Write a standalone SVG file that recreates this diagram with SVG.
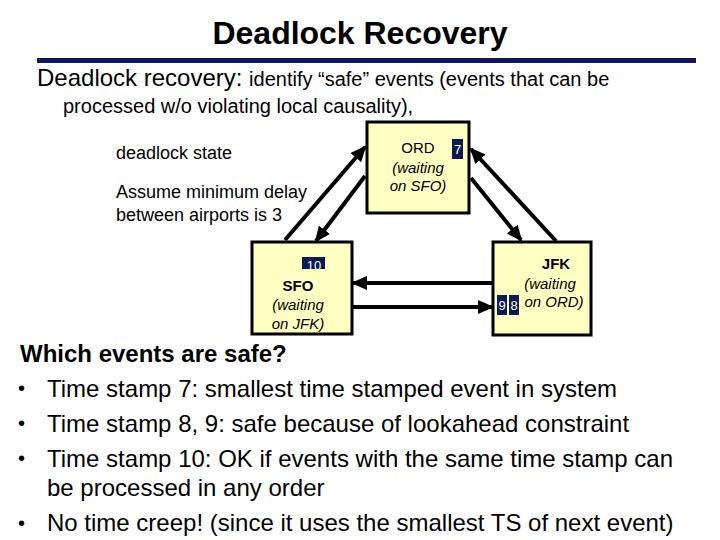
<svg xmlns="http://www.w3.org/2000/svg" width="720" height="540" viewBox="0 0 720 540">
<style>
text{font-family:"Liberation Sans",Arial,sans-serif;fill:#000}
.title{font-size:32px;font-weight:bold}
.sub{font-size:20px}
.lbl{font-size:18px}
.body{font-size:24px}
.bul{font-size:20px}
.box{fill:#ffffc4;stroke:#000;stroke-width:3}
.nm{font-size:15px;text-anchor:middle}
.it{font-size:15px;font-style:italic;text-anchor:middle}
.badge{fill:#0c1a52}
.bt{font-size:13px;fill:#fff;text-anchor:middle}
.conn{stroke:#000;stroke-width:4;fill:none;marker-end:url(#ah)}
</style>
<defs>
<marker id="ah" markerUnits="userSpaceOnUse" markerWidth="16" markerHeight="14" refX="14" refY="7" orient="auto">
<path d="M0,0 L16,7 L0,14 z" fill="#000"/>
</marker>
<clipPath id="c10"><rect x="302" y="257" width="23" height="12"/></clipPath>
</defs>
<rect width="720" height="540" fill="#fff"/>
<text class="title" x="360" y="44" text-anchor="middle" textLength="295">Deadlock Recovery</text>
<rect x="37" y="58" width="659" height="5" fill="#10165e"/>
<text x="37" y="86"><tspan style="font-size:24px">Deadlock recovery: </tspan><tspan class="sub">identify “safe” events (events that can be</tspan></text>
<text class="sub" x="63" y="113">processed w/o violating local causality),</text>
<text class="lbl" x="116" y="159">deadlock state</text>
<text class="lbl" x="116" y="198">Assume minimum delay</text>
<text class="lbl" x="116" y="221">between airports is 3</text>

<g id="connectors">
<line class="conn" x1="285" y1="240" x2="365" y2="147"/>
<line class="conn" x1="365" y1="176" x2="316" y2="241"/>
<line class="conn" x1="492" y1="283" x2="353" y2="283"/>
<line class="conn" x1="353" y1="307" x2="492" y2="307"/>
<line class="conn" x1="471" y1="178" x2="521" y2="240"/>
<line class="conn" x1="556" y1="241" x2="471" y2="149"/>
</g>

<g id="ORD">
<rect class="box" x="367" y="122" width="102" height="91"/>
<text class="nm" x="418" y="153">ORD</text>
<rect class="badge" x="452" y="139" width="11" height="20"/>
<text class="bt" x="457.5" y="154">7</text>
<text class="it" x="418" y="173">(waiting</text>
<text class="it" x="418" y="191">on SFO)</text>
</g>

<g id="SFO">
<rect class="box" x="252" y="242" width="100" height="92"/>
<rect class="badge" x="302" y="257" width="23" height="12"/>
<text class="bt" x="314" y="270" clip-path="url(#c10)">10</text>
<text class="nm" x="298" y="291" font-weight="bold">SFO</text>
<text class="it" x="298" y="310">(waiting</text>
<text class="it" x="298" y="329">on JFK)</text>
</g>

<g id="JFK">
<rect class="box" x="493" y="242" width="98" height="93"/>
<text class="nm" x="556" y="269" font-weight="bold">JFK</text>
<text class="it" x="550" y="289">(waiting</text>
<rect class="badge" x="497" y="295" width="10" height="20"/>
<text class="bt" x="502" y="310">9</text>
<rect class="badge" x="509" y="295" width="10" height="20"/>
<text class="bt" x="514" y="310">8</text>
<text class="it" x="554" y="307">on ORD)</text>
</g>

<text class="body" x="20" y="362" font-weight="bold">Which events are safe?</text>
<text class="bul" x="18" y="395">•</text>
<text class="body" x="47" y="397">Time stamp 7: smallest time stamped event in system</text>
<text class="bul" x="18" y="430">•</text>
<text class="body" x="47" y="432">Time stamp 8, 9: safe because of lookahead constraint</text>
<text class="bul" x="18" y="465">•</text>
<text class="body" x="47" y="467">Time stamp 10: OK if events with the same time stamp can</text>
<text class="body" x="47" y="496">be processed in any order</text>
<text class="bul" x="18" y="530">•</text>
<text class="body" x="47" y="531">No time creep! (since it uses the smallest TS of next event)</text>
</svg>
